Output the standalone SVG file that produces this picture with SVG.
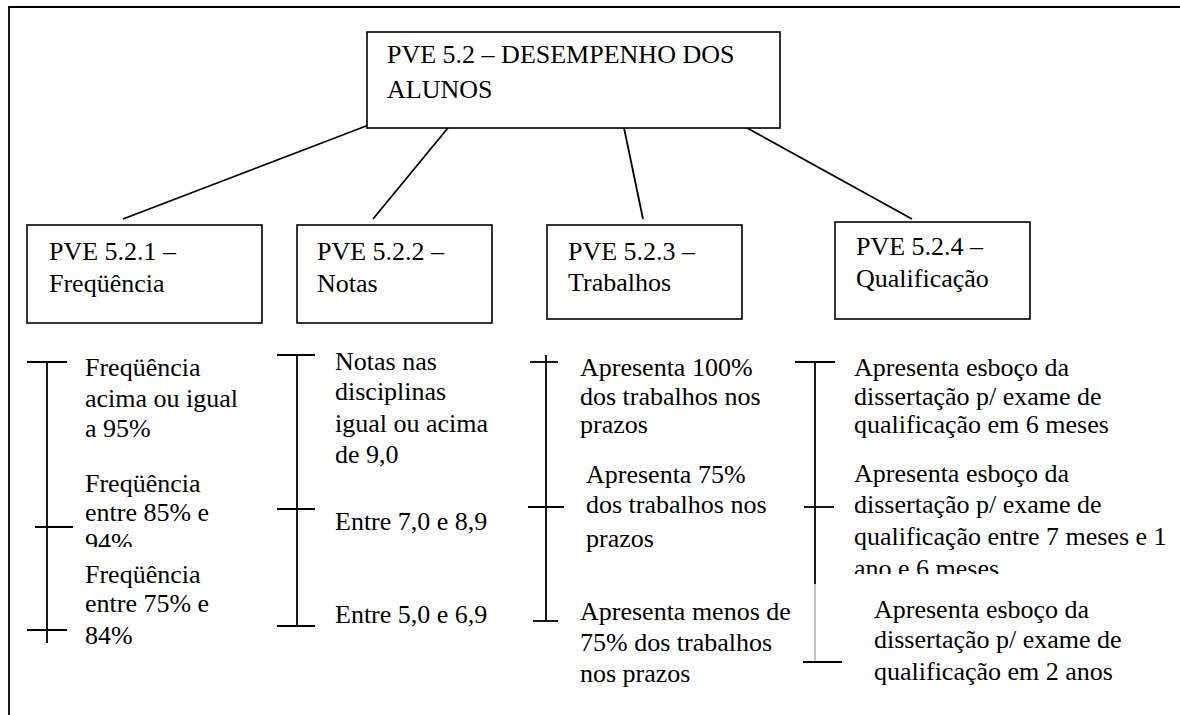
<svg xmlns="http://www.w3.org/2000/svg" width="1180" height="715" viewBox="0 0 1180 715">
  <style>
    text { font-family: "Liberation Serif", "Times New Roman", serif; font-size: 26px; fill: #000; }
    .box { fill: #fff; stroke: #000; stroke-width: 1.6; }
    .ln { stroke: #000; stroke-width: 1.8; fill: none; }
    .thin { stroke: #888; stroke-width: 1; fill: none; }
    .frame { stroke: #000; stroke-width: 1.8; fill: none; }
  </style>
  <defs>
    <clipPath id="clipFreq2"><rect x="60" y="470" width="200" height="77"/></clipPath>
    <clipPath id="clipQual2"><rect x="840" y="460" width="340" height="114"/></clipPath>
  </defs>
  <rect width="1180" height="715" fill="#fff"/>

  <!-- page frame -->
  <path class="frame" d="M9,716 V7 H1181"/>

  <!-- connectors from root to sub-criteria -->
  <g id="connectors">
    <line class="ln" x1="374" y1="123" x2="123" y2="219"/>
    <line class="ln" x1="452" y1="123" x2="373" y2="219"/>
    <line class="ln" x1="623" y1="123" x2="643" y2="219"/>
    <line class="ln" x1="738" y1="123" x2="912" y2="219"/>
  </g>

  <g id="root">
    <rect class="box" x="367" y="32" width="413" height="96"/>
    <text x="387" y="63">PVE 5.2 – DESEMPENHO DOS</text>
    <text x="387" y="98">ALUNOS</text>
  </g>

  <g id="n521">
    <rect class="box" x="27" y="225" width="235" height="98"/>
    <text x="49" y="260">PVE 5.2.1 –</text>
    <text x="49" y="292">Freqüência</text>
  </g>
  <g id="n522">
    <rect class="box" x="297" y="225" width="195" height="98"/>
    <text x="317" y="260">PVE 5.2.2 –</text>
    <text x="317" y="292">Notas</text>
  </g>
  <g id="n523">
    <rect class="box" x="547" y="225" width="195" height="94"/>
    <text x="568" y="260">PVE 5.2.3 –</text>
    <text x="568" y="291">Trabalhos</text>
  </g>
  <g id="n524">
    <rect class="box" x="835" y="222" width="195" height="97"/>
    <text x="856" y="255">PVE 5.2.4 –</text>
    <text x="856" y="287">Qualificação</text>
  </g>

  <!-- scale: frequency -->
  <g id="scale-freq">
    <line class="ln" x1="47" y1="362" x2="47" y2="643"/>
    <line class="ln" x1="27" y1="362" x2="67" y2="362"/>
    <line class="ln" x1="35" y1="527" x2="73" y2="527"/>
    <line class="ln" x1="27" y1="630" x2="67" y2="630"/>
    <text x="85" y="376">Freqüência</text>
    <text x="85" y="407">acima ou igual</text>
    <text x="85" y="437">a 95%</text>
    <g clip-path="url(#clipFreq2)">
      <text x="85" y="492">Freqüência</text>
      <text x="85" y="521">entre 85% e</text>
      <text x="85" y="551">94%</text>
    </g>
    <text x="85" y="583">Freqüência</text>
    <text x="85" y="612">entre 75% e</text>
    <text x="85" y="644">84%</text>
  </g>

  <!-- scale: grades -->
  <g id="scale-notas">
    <line class="ln" x1="297" y1="355" x2="297" y2="626"/>
    <line class="ln" x1="277" y1="355" x2="315" y2="355"/>
    <line class="ln" x1="277" y1="509" x2="315" y2="509"/>
    <line class="ln" x1="277" y1="626" x2="315" y2="626"/>
    <text x="335" y="370">Notas nas</text>
    <text x="335" y="400">disciplinas</text>
    <text x="335" y="432">igual ou acima</text>
    <text x="335" y="463">de 9,0</text>
    <text x="335" y="530">Entre 7,0 e 8,9</text>
    <text x="335" y="623">Entre 5,0 e 6,9</text>
  </g>

  <!-- scale: assignments -->
  <g id="scale-trabalhos">
    <line class="ln" x1="546" y1="355" x2="546" y2="621"/>
    <line class="ln" x1="530" y1="362" x2="558" y2="362"/>
    <line class="ln" x1="528" y1="507" x2="564" y2="507"/>
    <line class="ln" x1="533" y1="621" x2="558" y2="621"/>
    <text x="580" y="376">Apresenta 100%</text>
    <text x="580" y="405">dos trabalhos nos</text>
    <text x="580" y="433">prazos</text>
    <text x="586" y="483">Apresenta 75%</text>
    <text x="586" y="513">dos trabalhos nos</text>
    <text x="586" y="547">prazos</text>
    <text x="580" y="620">Apresenta menos de</text>
    <text x="580" y="651">75% dos trabalhos</text>
    <text x="580" y="682">nos prazos</text>
  </g>

  <!-- scale: qualification -->
  <g id="scale-qualificacao">
    <line class="ln" x1="815" y1="362" x2="815" y2="584"/>
    <line class="thin" x1="815" y1="584" x2="815" y2="661"/>
    <line class="ln" x1="795" y1="362" x2="835" y2="362"/>
    <line class="ln" x1="804" y1="507" x2="834" y2="507"/>
    <line class="ln" x1="803" y1="662" x2="842" y2="662"/>
    <text x="854" y="376">Apresenta esboço da</text>
    <text x="854" y="405">dissertação p/ exame de</text>
    <text x="854" y="433">qualificação em 6 meses</text>
    <g clip-path="url(#clipQual2)">
      <text x="854" y="482">Apresenta esboço da</text>
      <text x="854" y="513">dissertação p/ exame de</text>
      <text x="854" y="545">qualificação entre 7 meses e 1</text>
      <text x="854" y="577">ano e 6 meses</text>
    </g>
    <text x="874" y="618">Apresenta esboço da</text>
    <text x="874" y="648">dissertação p/ exame de</text>
    <text x="874" y="680">qualificação em 2 anos</text>
  </g>
</svg>
